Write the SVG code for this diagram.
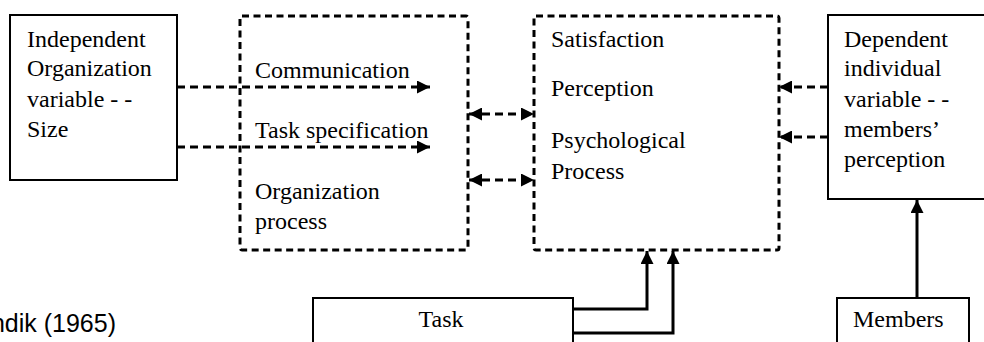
<svg xmlns="http://www.w3.org/2000/svg" width="984" height="342" viewBox="0 0 984 342">
<style>
.box{fill:#fff;stroke:#000;stroke-width:2}
.dbox{fill:none;stroke:#000;stroke-width:3;stroke-dasharray:7 4.5}
.t{font-family:"Liberation Serif","Times New Roman",serif;font-size:24px;fill:#000}
.s{font-family:"Liberation Sans",Arial,sans-serif;font-size:25px;fill:#000}
.dl{fill:none;stroke:#000;stroke-width:3;stroke-dasharray:8 5}
.sl{fill:none;stroke:#000;stroke-width:3}
</style>
<defs>
<marker id="ah" markerUnits="userSpaceOnUse" markerWidth="14" markerHeight="13" refX="13" refY="6.5" orient="auto-start-reverse" viewBox="0 0 14 13">
<path d="M0,0 L13,6.5 L0,13 z" fill="#000"/>
</marker>
</defs>
<g id="indep">
<rect class="box" x="10" y="15" width="167" height="165"/>
<text class="t" x="27" y="47">Independent</text>
<text class="t" x="27" y="76">Organization</text>
<text class="t" x="27" y="107">variable - -</text>
<text class="t" x="27" y="137">Size</text>
</g>
<g id="orgproc">
<rect class="dbox" x="240" y="16" width="228" height="234" rx="2"/>
<text class="t" x="255" y="78">Communication</text>
<text class="t" x="255" y="138">Task specification</text>
<text class="t" x="255" y="199">Organization</text>
<text class="t" x="255" y="229">process</text>
</g>
<g id="psych">
<rect class="dbox" x="534" y="16" width="245" height="234" rx="2"/>
<text class="t" x="551" y="47">Satisfaction</text>
<text class="t" x="551" y="96">Perception</text>
<text class="t" x="551" y="148">Psychological</text>
<text class="t" x="551" y="179">Process</text>
</g>
<g id="dep">
<rect class="box" x="828" y="15" width="170" height="184"/>
<text class="t" x="844" y="47">Dependent</text>
<text class="t" x="844" y="76">individual</text>
<text class="t" x="844" y="107">variable - -</text>
<text class="t" x="844" y="137">members’</text>
<text class="t" x="844" y="167">perception</text>
</g>
<g id="task">
<rect class="box" x="313" y="298" width="260" height="60"/>
<text class="t" x="441" y="327" text-anchor="middle">Task</text>
</g>
<g id="members">
<rect class="box" x="837" y="298" width="132" height="60"/>
<text class="t" x="853" y="327">Members</text>
</g>
<g id="caption">
<text class="s" x="116" y="332" text-anchor="end">ndik (1965)</text>
</g>
<g id="connectors">
<path class="dl" d="M177,87 H430" marker-end="url(#ah)"/>
<path class="dl" d="M177,147 H430" marker-end="url(#ah)"/>
<path class="dl" d="M469,114 H534" marker-start="url(#ah)" marker-end="url(#ah)"/>
<path class="dl" d="M469,180 H534" marker-start="url(#ah)" marker-end="url(#ah)"/>
<path class="dl" d="M828,87 H779" marker-end="url(#ah)"/>
<path class="dl" d="M828,137 H779" marker-end="url(#ah)"/>
<path class="sl" d="M573,309 H647 V251" marker-end="url(#ah)"/>
<path class="sl" d="M573,333 H673 V251" marker-end="url(#ah)"/>
<path class="sl" d="M917,298 V200" marker-end="url(#ah)"/>
</g>
</svg>
